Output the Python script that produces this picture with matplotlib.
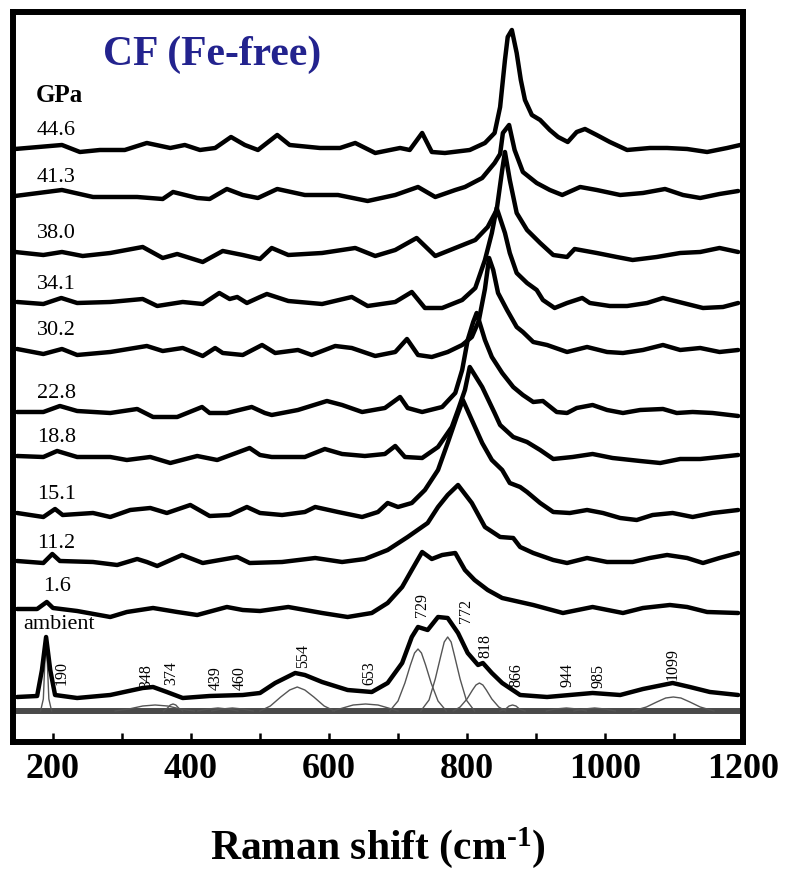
import matplotlib
matplotlib.use("Agg")
import matplotlib.pyplot as plt
from matplotlib.ticker import MultipleLocator

plt.rcParams['font.family'] = ['Liberation Serif', 'DejaVu Serif']
plt.rcParams['mathtext.fontset'] = 'custom'
plt.rcParams['mathtext.rm'] = 'Liberation Serif:bold'
plt.rcParams['mathtext.default'] = 'rm'

# ---------------------------------------------
# Spectra (wavenumber, intensity above own baseline)
# ---------------------------------------------
pressures = ['44.6', '41.3', '38.0', '34.1', '30.2', '22.8', '18.8', '15.1', '11.2', '1.6', 'ambient']
offsets = [562, 515, 459, 408, 362, 299, 255, 198, 149, 102, 14]

x_446 = [145, 213, 239, 268, 304, 336, 370, 391, 413, 435, 458, 478, 497, 525, 543, 587, 616, 638, 667,
         703, 717, 735, 749, 768, 804, 826, 840, 848, 855, 859, 865, 872, 878, 884, 894, 906, 920, 932,
         946, 959, 971, 988, 1007, 1032, 1065, 1090, 1119, 1148, 1177, 1196]
y_446 = [0, 4, -3, -1, -1, 6, 1, 4, -1, 1, 12, 4, -1, 14, 4, 1, 1, 6, -4,
         1, -1, 16, -3, -4, -1, 6, 16, 42, 89, 112, 119, 96, 69, 49, 34, 29, 19, 12,
         7, 17, 20, 14, 7, -1, 1, 1, 0, -3, 1, 4]

x_413 = [145, 213, 258, 322, 359, 374, 409, 427, 452, 475, 497, 525, 565, 613, 656, 696, 729, 754, 783,
         797, 822, 840, 848, 852, 861, 869, 881, 901, 920, 938, 964, 988, 1022, 1055, 1087, 1113, 1138,
         1166, 1193]
y_413 = [0, 6, -1, -1, -3, 4, -2, -3, 7, 1, -2, 7, 1, 1, -5, 1, 9, -1, 6,
         9, 18, 33, 42, 63, 71, 46, 24, 13, 6, 1, 9, 6, 1, 3, 7, 1, -2,
         2, 5]

x_380 = [145, 186, 213, 243, 283, 330, 359, 380, 417, 446, 475, 500, 517, 541, 590, 638, 667, 696, 727,
         754, 783, 812, 830, 843, 851, 855, 862, 872, 887, 906, 925, 945, 956, 988, 1017, 1040, 1075,
         1109, 1138, 1166, 1193]
y_380 = [0, -3, 0, -4, -1, 5, -6, -2, -10, 1, -3, -7, 4, -3, -1, 4, -4, 2, 14,
         -4, 4, 12, 25, 42, 82, 100, 72, 39, 22, 9, -3, -5, 3, -1, -5, -8, -5,
         -1, 0, 4, 0]

x_341 = [148, 186, 212, 235, 283, 330, 351, 388, 417, 441, 456, 467, 481, 500, 510, 541, 590, 633, 656,
         696, 720, 739, 764, 793, 812, 826, 836, 843, 855, 862, 872, 887, 901, 910, 927, 945, 967, 978,
         1007, 1032, 1061, 1084, 1113, 1142, 1171, 1193]
y_341 = [1, -1, 5, 0, 1, 4, -3, 1, -1, 10, 4, 6, 0, 6, 9, 2, -1, 6, -3,
         1, 11, -5, -5, 3, 15, 43, 70, 95, 70, 50, 30, 20, 13, 3, -5, 0, 5, 0,
         -3, -3, 0, 5, 0, -5, -4, 0]

x_302 = [148, 186, 213, 235, 283, 336, 359, 388, 417, 435, 446, 475, 503, 522, 555, 575, 609, 633, 667,
         696, 713, 729, 749, 772, 793, 807, 817, 826, 832, 838, 845, 858, 872, 881, 896, 916, 945, 974,
         1003, 1026, 1055, 1084, 1109, 1138, 1166, 1193]
y_302 = [0, -5, 0, -6, -3, 3, -2, 1, -7, 1, -4, -6, 4, -4, -1, -6, 3, 1, -7,
         -3, 10, -6, -8, -3, 4, 12, 28, 60, 91, 79, 56, 39, 22, 17, 7, 4, -3, 2,
         -3, -4, -1, 4, -1, 1, -3, -1]

x_228 = [148, 186, 210, 235, 283, 322, 345, 380, 416, 427, 452, 488, 507, 517, 555, 597, 619, 648, 681,
         703, 714, 735, 764, 783, 793, 801, 809, 814, 826, 836, 851, 867, 881, 896, 910, 930, 945, 959,
         982, 1003, 1026, 1051, 1084, 1104, 1127, 1156, 1193]
y_228 = [0, 0, 6, 1, -1, 3, -5, -5, 5, -1, -1, 5, -1, -3, 2, 11, 7, 0, 4,
         15, 4, 0, 5, 19, 42, 72, 90, 99, 72, 55, 39, 25, 17, 10, 11, 0, -1, 4,
         7, 2, -1, 2, 3, -1, 0, -1, -4]

x_188 = [148, 186, 206, 235, 283, 307, 341, 370, 409, 438, 485, 500, 517, 565, 594, 619, 652, 681, 696,
         710, 735, 758, 778, 787, 797, 804, 822, 840, 848, 867, 887, 906, 925, 953, 982, 1011, 1051,
         1080, 1109, 1138, 1166, 1193]
y_188 = [0, -1, 5, -1, -1, -4, -1, -7, 0, -4, 8, 1, -1, -1, 7, 2, 0, 2, 10,
         -1, -2, 9, 29, 46, 66, 89, 69, 43, 31, 19, 14, 6, -3, -1, 2, -2, -5,
         -7, -3, -3, -1, 1]

x_151 = [148, 186, 203, 214, 258, 283, 312, 341, 365, 399, 427, 456, 481, 500, 532, 565, 580, 613, 648,
         671, 685, 700, 720, 739, 758, 772, 785, 794, 807, 822, 836, 851, 862, 877, 887, 906, 925, 949,
         974, 997, 1022, 1046, 1069, 1098, 1127, 1156, 1193]
y_151 = [0, -4, 4, -2, 0, -4, 3, 5, 0, 8, -3, -2, 6, 0, -2, 1, 6, 1, -4,
         1, 10, 6, 10, 23, 43, 70, 96, 113, 93, 70, 53, 43, 30, 26, 21, 10, 1, 0,
         3, 0, -5, -7, -2, 0, -4, 0, 3]

x_112 = [148, 186, 199, 210, 258, 293, 322, 336, 351, 387, 417, 467, 485, 532, 580, 619, 652, 685, 714,
         743, 758, 772, 787, 807, 826, 848, 867, 877, 896, 925, 945, 974, 1003, 1040, 1065, 1090, 1119,
         1142, 1166, 1193]
y_112 = [1, -1, 8, 1, 0, -3, 3, 0, -4, 7, -1, 5, -1, 0, 4, 0, 3, 12, 25,
         39, 55, 67, 77, 59, 35, 25, 24, 15, 9, 2, -1, 4, 0, 0, 4, 7, 4,
         -1, 4, 9]

x_16 = [148, 177, 191, 200, 235, 283, 307, 345, 380, 409, 452, 475, 500, 541, 590, 627, 662, 685, 706,
        720, 735, 749, 764, 783, 797, 811, 830, 851, 896, 939, 982, 1026, 1055, 1094, 1119, 1148, 1193]
y_16 = [0, 0, 7, 1, -2, -8, -3, 1, -3, -6, 2, -1, -2, 2, -4, -8, -4, 6, 22,
        39, 57, 50, 54, 56, 39, 29, 19, 11, 4, -4, 2, -4, 1, 4, 2, -3, -4]

x_amb = [148, 177, 184, 190, 196, 203, 235, 283, 330, 345, 365, 388, 427, 475, 500, 522, 551, 565, 590,
         627, 662, 685, 706, 720, 729, 743, 758, 772, 787, 801, 816, 823, 836, 851, 877, 916, 949, 982,
         1022, 1055, 1098, 1123, 1152, 1193]
y_amb = [0, 1, 27, 60, 27, 2, -1, 2, 9, 10, 5, -1, 1, 2, 4, 14, 24, 22, 15,
         7, 5, 14, 34, 60, 70, 67, 80, 79, 64, 44, 32, 34, 24, 14, 2, 0, 2, 4,
         2, 8, 14, 10, 5, 2]

# fitted components of the ambient spectrum (drawn from the zero line)
comp_190_x = [182, 186, 188, 190, 192, 194, 198]
comp_190_y = [0, 12, 45, 72, 45, 12, 0]
comp_348_x = [290, 310, 330, 348, 366, 385, 405]
comp_348_y = [0, 2, 5, 6, 5, 2, 0]
comp_374_x = [360, 366, 370, 374, 378, 382, 388]
comp_374_y = [0, 3, 6, 7, 6, 3, 0]
comp_439_x = [410, 425, 439, 453, 468]
comp_439_y = [0, 2, 3, 2, 0]
comp_460_x = [430, 445, 460, 475, 490]
comp_460_y = [0, 2, 3, 2, 0]
comp_554_x = [500, 515, 530, 543, 554, 565, 578, 593, 608]
comp_554_y = [0, 5, 14, 21, 24, 21, 14, 5, 0]
comp_653_x = [605, 620, 635, 653, 671, 686, 700]
comp_653_y = [0, 3, 6, 7, 6, 3, 0]
comp_729_x = [688, 700, 710, 718, 724, 729, 734, 740, 748, 758, 770]
comp_729_y = [0, 10, 28, 46, 58, 62, 58, 46, 28, 10, 0]
comp_772_x = [733, 745, 754, 762, 767, 772, 777, 782, 790, 799, 811]
comp_772_y = [0, 11, 32, 55, 69, 74, 69, 55, 32, 11, 0]
comp_818_x = [780, 790, 800, 808, 813, 818, 823, 828, 836, 846, 856]
comp_818_y = [0, 4, 12, 21, 26, 28, 26, 21, 12, 4, 0]
comp_866_x = [848, 856, 861, 866, 871, 876, 884]
comp_866_y = [0, 2, 5, 6, 5, 2, 0]
comp_944_x = [915, 928, 944, 960, 973]
comp_944_y = [0, 2, 3, 2, 0]
comp_985_x = [955, 970, 985, 1000, 1015]
comp_985_y = [0, 2, 3, 2, 0]
comp_1099_x = [1040, 1060, 1075, 1088, 1099, 1110, 1123, 1138, 1158]
comp_1099_y = [0, 4, 9, 13, 14, 13, 9, 4, 0]

peak_labels = ['190', '348', '374', '439', '460', '554', '653', '729', '772', '818', '866', '944', '985', '1099']
peak_label_x = [213, 335, 371, 436, 471, 562, 659, 735, 798, 826, 872, 946, 991, 1098]
peak_label_y = [26, 23, 26, 21, 21, 43, 26, 94, 88, 53, 24, 24, 23, 31]

spectra_x = [x_446, x_413, x_380, x_341, x_302, x_228, x_188, x_151, x_112, x_16, x_amb]
spectra_y = [y_446, y_413, y_380, y_341, y_302, y_228, y_188, y_151, y_112, y_16, y_amb]
components = [(comp_190_x, comp_190_y), (comp_348_x, comp_348_y), (comp_374_x, comp_374_y),
              (comp_439_x, comp_439_y), (comp_460_x, comp_460_y), (comp_554_x, comp_554_y),
              (comp_653_x, comp_653_y), (comp_729_x, comp_729_y), (comp_772_x, comp_772_y),
              (comp_818_x, comp_818_y), (comp_866_x, comp_866_y), (comp_944_x, comp_944_y),
              (comp_985_x, comp_985_y), (comp_1099_x, comp_1099_y)]

# ---------------------------------------------
# Figure
# ---------------------------------------------
fig = plt.figure(figsize=(7.86, 8.75), dpi=100)
ax = fig.add_axes([0.0165, 0.152, 0.9288, 0.8343])
ax.set_xlim(142, 1200)
ax.set_ylim(-31, 699)

# zero line
ax.axhline(0, color='#4a4a4a', lw=4.3, zorder=2)

for cx, cy in components:
    ax.plot(cx, cy, color='#555555', lw=1.0, zorder=3)

for xs, ys, off in zip(spectra_x, spectra_y, offsets):
    ax.plot(xs, [v + off for v in ys], color='black', lw=3.2,
            solid_joinstyle='round', solid_capstyle='round', zorder=4)

# pressure labels
for lab, off in zip(pressures, offsets):
    if lab == 'ambient':
        ax.text(157, 86, lab, fontsize=16, ha='left', va='center')
    elif lab == '1.6':
        ax.text(185, off + 22, lab, fontsize=16, ha='left', va='center')
    else:
        ax.text(177, off + 18, lab, fontsize=16, ha='left', va='center')

for lab, px, py in zip(peak_labels, peak_label_x, peak_label_y):
    ax.text(px, py, lab, fontsize=11.5, rotation=90, ha='center', va='bottom')

ax.text(0.123, 0.941, 'CF (Fe-free)', transform=ax.transAxes, fontsize=30,
        fontweight='bold', color='#23238e', ha='left', va='center')
ax.text(0.0315, 0.885, 'GPa', transform=ax.transAxes, fontsize=18,
        fontweight='bold', ha='left', va='center')

# axes styling
for s in ax.spines.values():
    s.set_linewidth(4.3)
ax.set_yticks([])
ax.xaxis.set_major_locator(MultipleLocator(200))
ax.xaxis.set_minor_locator(MultipleLocator(100))
ax.tick_params(axis='x', which='both', direction='in', length=6.5, width=1.8,
               pad=8, labelsize=26)
for t in ax.get_xticklabels():
    t.set_fontweight('bold')
ax.set_xlabel(r'Raman shift (cm$^{\text{-}1}$)', fontsize=30, fontweight='bold', labelpad=28)

fig.savefig('out.png', dpi=100)
